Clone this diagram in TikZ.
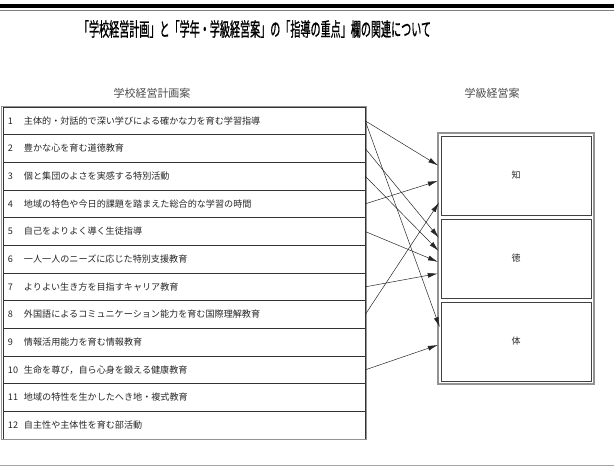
\documentclass[tikz,border=0pt]{standalone}
\usepackage{fontspec}
\usepackage{graphicx}
\setmainfont{Noto Sans CJK JP}[AutoFakeBold=1.2]
\usetikzlibrary{arrows.meta,calc}
\begin{document}
\begin{tikzpicture}[x=1pt,y=-1pt,
  rowbox/.style={draw=black!80, line width=0.5pt, minimum height=27.67pt,
    text width=352pt, inner xsep=5pt, align=left, font=\fontsize{9.1}{9.5}\selectfont, text=black!85},
  cellbox/.style={draw=black!75, line width=0.6pt,
    minimum width=150pt, minimum height=79pt, inner sep=0pt, font=\fontsize{9}{9}\selectfont, text=black!85},
  frame/.style={draw=gray!85, line width=1.2pt},
  heading/.style={font=\fontsize{11}{11}\selectfont, text=black!70},
  arr/.style={-{Latex[length=10pt,width=5pt]}, line width=0.5pt, black!85, shorten >=3pt}
]
\useasboundingbox (0,0) rectangle (614,466);
% top and bottom rules
\draw[line width=4pt] (0,6) -- (614,6);
\draw[gray, line width=0.8pt] (0,10) -- (614,10);
\draw[gray!70, line width=1pt] (0,465) -- (614,465);
% title
\node (title) at (255,29) {\scalebox{0.53}[1]{\fontsize{19}{19}\selectfont\bfseries 「学校経営計画」と「学年・学級経営案」の「指導の重点」欄の関連について}};
% headings
\node[heading] (hl) at (152,93) {学校経営計画案};
\node[heading] (hr) at (492,93) {学級経営案};
% table rows
\foreach \i/\t in {
  1/主体的・対話的で深い学びによる確かな力を育む学習指導,
  2/豊かな心を育む道徳教育,
  3/個と集団のよさを実感する特別活動,
  4/地域の特色や今日的課題を踏まえた総合的な学習の時間,
  5/自己をよりよく導く生徒指導,
  6/一人一人のニーズに応じた特別支援教育,
  7/よりよい生き方を目指すキャリア教育,
  8/外国語によるコミュニケーション能力を育む国際理解教育,
  9/情報活用能力を育む情報教育,
  10/生命を尊び，自ら心身を鍛える健康教育,
  11/地域の特性を生かしたへき地・複式教育,
  12/自主性や主体性を育む部活動}
{
  \node[rowbox] (r\i) at (184, {107+(\i-0.5)*27.67}) {\makebox[16pt][l]{\i}\t};
}
\draw[frame, line width=1pt] (1.2,106.5) rectangle (366.5,439.5);
% right cells
\node[cellbox] (chi) at (516,175.5) {知};
\node[cellbox] (toku) at (516,258.5) {徳};
\node[cellbox] (tai) at (516,341.5) {体};
\draw[frame] (438,133) rectangle (594,384);
% connectors
\draw[arr] (r1.east) -- ([yshift=8.5pt]chi.west);
\draw[arr] (r1.east) -- ([yshift=11.5pt]tai.west);
\draw[arr] (r2.east) -- ([yshift=18.5pt]toku.west);
\draw[arr] (r3.east) -- ([yshift=5.5pt]toku.west);
\draw[arr] (r4.east) -- ([yshift=-4.5pt]chi.west);
\draw[arr] (r5.east) -- ([yshift=-4.5pt]toku.west);
\draw[arr] (r7.east) -- ([yshift=-14.5pt]toku.west);
\draw[arr] (r8.east) -- ([yshift=-24.5pt]chi.west);
\draw[arr] (r10.east) -- ([yshift=-2.5pt]tai.west);
\end{tikzpicture}
\end{document}
